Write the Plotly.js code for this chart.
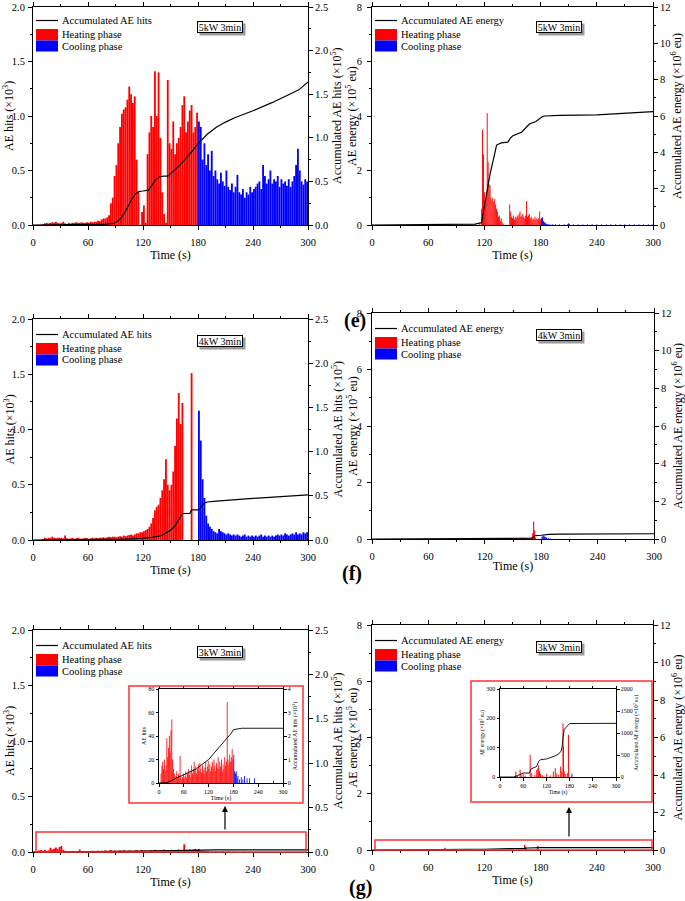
<!DOCTYPE html>
<html>
<head>
<meta charset="utf-8">
<script src="https://cdn.plot.ly/plotly-3.0.1.min.js"></script>
<style>
html, body { margin: 0; padding: 0; background: #fff; }
#plot { width: 685px; height: 901px; }
</style>
</head>
<body>
<div id="plot"></div>
<script>
const W = 685, H = 901;
const FONT = 'Liberation Serif, Times New Roman, serif';
const RED = '#ff0000', BLUE = '#0000ff';

const timeTicks = [0, 60, 120, 180, 240, 300];
const conditions = ['5kW 3min', '4kW 3min', '3kW 3min'];
const panelTags = ['(e)', '(f)', '(g)'];

// ---- 5 kW, AE hits (x10^3), 2 s bins from 0 s (heating) and 180 s (cooling)
const hits5Heat = [0, 0, 0, 0, 0,
  0.01, 0.015, 0.02, 0.015, 0.02, 0.025, 0.02, 0.03, 0.02, 0.015,
  0.02, 0.03, 0.015, 0.01, 0.02, 0.015, 0.02, 0.02, 0.025, 0.02, 0.02, 0.025, 0.02, 0.02, 0.025,
  0.02, 0.03, 0.025, 0.03, 0.03, 0.04, 0.035, 0.05, 0.06, 0.06,
  0.07, 0.09, 0.2, 0.25, 0.45, 0.55, 0.75, 0.9, 1.02, 1.06,
  1.08, 1.15, 1.27, 1.2, 1.12, 1.18, 0.6, 0.3, 0.0, 0.12,
  0.18, 0.02, 0.65, 0.85, 1.0, 0.9, 1.41, 1.0, 1.4, 0.8,
  0.3, 0.1, 0.02, 1.33, 0.75, 0.7, 0.95, 0.65, 0.75, 0.8,
  0.9, 1.1, 1.18, 0.85, 0.95, 1.05, 1.1, 0.85, 0.9, 1.03];
const hits5Cool = [0.95, 0.9, 0.6, 0.75, 0.55, 0.65, 0.5, 0.68, 0.45, 0.5,
  0.42, 0.38, 0.48, 0.4, 0.36, 0.5, 0.35, 0.32, 0.38, 0.3,
  0.35, 0.46, 0.3, 0.28, 0.33, 0.25, 0.3, 0.28, 0.35, 0.3,
  0.33, 0.35, 0.38, 0.4, 0.33, 0.55, 0.45, 0.38, 0.42, 0.5,
  0.38, 0.42, 0.4, 0.45, 0.35, 0.42, 0.38, 0.4, 0.36, 0.42,
  0.35, 0.4, 0.45, 0.55, 0.7, 0.5, 0.4, 0.37, 0.42, 0.4];
const accT5 = [0, 60, 80, 88, 92, 96, 100, 104, 108, 112, 116, 120, 126, 130, 134, 138, 142, 147, 152, 160, 170, 180, 190, 200, 210, 220, 240, 260, 280, 290, 300];
const accHits5 = [0, 0.005, 0.01, 0.02, 0.04, 0.08, 0.14, 0.22, 0.3, 0.36, 0.385, 0.39, 0.4, 0.46, 0.52, 0.55, 0.56, 0.56, 0.61, 0.68, 0.8, 0.93, 1.04, 1.12, 1.18, 1.23, 1.31, 1.4, 1.5, 1.55, 1.64];

// ---- 5 kW, AE energy (x10^5 eu), 1 s bins
const tHeat5E = [95, 100, 105, 110, 115,
  117, 118, 119, 120, 121, 122, 123, 124, 125, 126, 127, 128, 129, 130, 131, 132, 133, 134, 135, 136, 137, 138, 139, 140,
  147, 148, 149, 150, 151, 152, 153, 154, 155, 156, 157, 158, 159, 160, 161, 162, 163, 164, 165, 166, 167, 168, 169, 170,
  171, 172, 173, 174, 175, 176, 177, 178, 179, 180];
const eHeat5E = [0.02, 0.02, 0.03, 0.03, 0.05,
  0.6, 3.5, 2.6, 1.2, 0.8, 1.0, 4.1, 2.3, 1.5, 1.45, 1.0, 0.9, 1.0, 0.85, 0.95, 0.75, 0.6, 0.5, 0.3, 0.35, 0.15, 0.25, 0.1, 0.05,
  0.75, 0.5, 0.3, 0.25, 0.35, 0.2, 0.3, 0.25, 0.35, 0.3, 0.4, 0.5, 0.3, 0.35, 0.4, 0.3, 0.25, 0.35, 0.88, 0.3, 0.35, 0.4, 0.25, 0.3,
  0.2, 0.25, 0.2, 0.3, 0.2, 0.25, 0.2, 0.25, 0.5, 0.2];
const tCool5E = [181, 182, 183, 184, 185, 186, 187, 188, 190, 193, 196, 200, 205, 209, 210, 211, 215, 220, 225, 230, 235, 240, 245, 250, 255, 260, 265, 270, 275, 280, 285, 290, 295, 299];
const eCool5E = [0.25, 0.28, 0.15, 0.1, 0.08, 0.05, 0.04, 0.03, 0.03, 0.03, 0.03, 0.03, 0.03, 0.04, 0.06, 0.04, 0.03, 0.03, 0.03, 0.03, 0.03, 0.03, 0.03, 0.03, 0.03, 0.03, 0.03, 0.03, 0.03, 0.03, 0.03, 0.03, 0.03, 0.03];
const accT5E = [0, 90, 110, 117, 120, 123, 126, 130, 133, 138, 145, 148, 150, 160, 168, 175, 182, 185, 200, 240, 300];
const accE5 = [0, 0.01, 0.05, 0.13, 1.0, 2.1, 2.8, 3.7, 4.4, 4.52, 4.56, 4.8, 4.9, 5.12, 5.56, 5.7, 5.97, 6.0, 6.03, 6.06, 6.24];

// ---- 4 kW, AE hits (x10^3), 2 s bins
const hits4Heat = [0, 0, 0, 0, 0,
  0.01, 0.02, 0.015, 0.02, 0.02, 0.03, 0.02, 0.015, 0.02, 0.02,
  0.02, 0.015, 0.04, 0.015, 0.01, 0.015, 0.02, 0.01, 0.015, 0.02,
  0.015, 0.01, 0.015, 0.02, 0.015, 0.01, 0.015, 0.02, 0.015, 0.02,
  0.015, 0.02, 0.02, 0.025, 0.02, 0.025, 0.03, 0.025, 0.03, 0.03,
  0.025, 0.03, 0.035, 0.03, 0.04, 0.035, 0.04, 0.045, 0.05, 0.04,
  0.05, 0.06, 0.06, 0.07, 0.07, 0.08, 0.09, 0.1, 0.12, 0.15,
  0.2, 0.27, 0.3, 0.32, 0.38, 0.45, 0.55, 0.73, 0.5, 0.45,
  0.5, 0.62, 0.85, 1.1, 1.33, 1.05, 1.24, 0, 0, 0,
  0, 1.51, 0, 0, 0];
const hits4Cool = [1.17, 0.9, 0.55, 0.38, 0.22, 0.15, 0.12, 0.1, 0.08, 0.07,
  0.06, 0.1, 0.08, 0.07, 0.06, 0.05, 0.06, 0.05, 0.04, 0.05,
  0.04, 0.05, 0.04, 0.03, 0.04, 0.05, 0.03, 0.04, 0.03, 0.04,
  0.03, 0.04, 0.03, 0.04, 0.05, 0.03, 0.04, 0.03, 0.04, 0.03,
  0.04, 0.03, 0.04, 0.05, 0.04, 0.05, 0.04, 0.06, 0.05, 0.04,
  0.05, 0.06, 0.05, 0.07, 0.05, 0.06, 0.05, 0.07, 0.06, 0.07];
const accT4 = [0, 60, 100, 120, 130, 140, 145, 150, 155, 160, 163, 165, 171, 173, 175, 181, 183, 186, 190, 200, 240, 300];
const accHits4 = [0, 0.005, 0.01, 0.02, 0.03, 0.05, 0.08, 0.11, 0.16, 0.24, 0.3, 0.3, 0.3, 0.34, 0.34, 0.34, 0.37, 0.41, 0.43, 0.44, 0.47, 0.51];

// ---- 4 kW, AE energy (x10^5 eu), 1 s bins
const tHeat4E = [150, 155, 158, 160, 162, 165, 168, 170, 171, 172, 173, 174];
const eHeat4E = [0.01, 0.02, 0.03, 0.05, 0.04, 0.04, 0.05, 0.06, 0.2, 0.62, 0.3, 0.05];
const tCool4E = [181, 182, 183, 184, 185, 186, 188, 190, 195];
const eCool4E = [0.08, 0.12, 0.1, 0.08, 0.06, 0.04, 0.03, 0.02, 0.01];
const accT4E = [0, 150, 165, 170, 172, 173, 180, 183, 188, 200, 240, 300];
const accE4 = [0, 0.005, 0.02, 0.04, 0.1, 0.18, 0.2, 0.23, 0.25, 0.26, 0.27, 0.28];

// ---- 3 kW, AE hits (raw counts), 2 s bins  (inset; main panel uses x10^3)
const hits3Heat = [0, 0, 8, 15, 18, 12, 20, 10, 15, 38,
  22, 30, 40, 26, 45, 54, 20, 12, 8, 5,
  6, 10, 4, 8, 5, 23, 6, 3, 5, 8,
  4, 6, 10, 5, 8, 12, 7, 10, 5, 15,
  8, 12, 18, 10, 14, 8, 12, 16, 10, 17,
  12, 9, 15, 11, 8, 13, 18, 10, 14, 19,
  12, 16, 10, 14, 18, 12, 20, 15, 10, 17,
  13, 22, 12, 18, 14, 20, 10, 16, 12, 22,
  15, 18, 69, 20, 15, 24, 18, 22, 29, 20];
const hits3Cool = [24, 10, 8, 10, 4, 6, 0, 3, 0, 5,
  0, 3, 0, 6, 0, 0, 4, 0, 0, 4,
  0, 0, 0, 0, 0, 4, 0, 0, 0, 0,
  0, 0, 0, 0, 0, 0, 0, 0, 0, 0,
  0, 0, 0, 0, 0, 0, 0, 0, 2, 0,
  0, 0, 0, 0, 0, 0, 0, 0, 0, 0];
const accT3 = [0, 20, 30, 40, 60, 90, 120, 140, 160, 166, 175, 180, 190, 200, 300];
const accHits3 = [0, 0.02, 0.1, 0.2, 0.35, 0.6, 1.0, 1.4, 1.8, 1.95, 2.12, 2.27, 2.31, 2.33, 2.33]; // x10^3

// ---- 3 kW, AE energy (x10^2 eu)  (inset; main panel uses x10^5 / x10^6)
const tHeat3E = [41, 45, 52, 55, 60, 65, 78, 82, 90, 95, 98, 100, 102, 105, 110, 121, 130, 138, 143, 147, 152, 157, 160, 163, 164, 166, 170, 175, 177];
const eHeat3E = [19, 5, 25, 6, 11, 4, 76, 14, 8, 25, 30, 39, 20, 12, 6, 11, 5, 19, 30, 12, 8, 36, 20, 182, 105, 19, 10, 14, 144];
const tCool3E = [186];
const eCool3E = [11];
const accT3E = [0, 35, 45, 55, 60, 76, 78, 80, 95, 100, 105, 120, 140, 150, 158, 161, 163, 166, 170, 173, 178, 180, 300];
const accE3 = [0, 0, 30, 75, 90, 90, 170, 180, 240, 356, 394, 410, 470, 515, 583, 700, 900, 1080, 1120, 1150, 1200, 1215, 1220];

// ---------------------------------------------------------------
const px = x => x / W;
const py = y => 1 - y / H;
const sfx = n => (n === 1 ? '' : String(n));

const traces = [];
const layout = {
  width: W, height: H,
  margin: { l: 0, r: 0, t: 0, b: 0 },
  showlegend: false,
  barmode: 'overlay',
  paper_bgcolor: 'white', plot_bgcolor: 'white',
  font: { family: FONT, color: 'black' },
  shapes: [], annotations: []
};

function axisBase(fs, minorStep, standoff) {
  const a = {
    showline: true, linecolor: 'black', linewidth: 1,
    ticks: 'outside', ticklen: fs > 8 ? 4 : 2.5, tickwidth: 1, tickcolor: 'black',
    showgrid: false, zeroline: false, automargin: false, ticklabeloverflow: 'allow',
    ticklabelstandoff: standoff || 0,
    tickfont: { family: FONT, size: fs, color: 'black' }
  };
  if (minorStep) a.minor = { ticks: 'outside', ticklen: 2, tickcolor: 'black', dtick: minorStep, showgrid: false };
  return a;
}

function addAxes(n, box, o) {
  const [l, t, r, b] = box;
  layout['xaxis' + sfx(n)] = Object.assign(axisBase(o.fs, o.minor ? 30 : null, o.inset ? 0 : 3), {
    domain: [px(l), px(r)], anchor: 'y' + sfx(2 * n - 1), range: [0, 300],
    tickvals: timeTicks, mirror: 'ticks',
    title: { text: 'Time (s)', font: { size: o.tfs }, standoff: o.xso }
  });
  layout['yaxis' + sfx(2 * n - 1)] = Object.assign(axisBase(o.fs, o.minor ? o.lm : null, o.inset ? 0 : o.lso), {
    domain: [py(b), py(t)], anchor: 'x' + sfx(n), range: o.lr, dtick: o.ld, tickformat: o.lf,
    title: { text: o.inset ? o.lt : '', font: { size: o.tfs }, standoff: o.yso }
  });
  layout['yaxis' + sfx(2 * n)] = Object.assign(axisBase(o.fs, o.minor ? o.rm : null, 0), {
    overlaying: 'y' + sfx(2 * n - 1), side: 'right', anchor: 'x' + sfx(n),
    range: o.rr, dtick: o.rd, tickformat: o.rf,
    title: { text: o.inset ? o.rt : '', font: { size: o.tfs }, standoff: o.yso }
  });
  if (!o.inset) {
    // main-panel y titles placed by hand so neighbouring panels do not collide
    const cy = (t + b) / 2;
    [[o.ltx, o.lt], [o.rtx, o.rt]].forEach(([x, txt]) => {
      layout.annotations.push({ xref: 'paper', yref: 'paper', x: px(x), y: py(cy), xanchor: 'center', yanchor: 'middle',
        text: txt, textangle: -90, showarrow: false, font: { size: o.tfs } });
    });
  }
}

function barTrace(n, color, y, pos) {
  return Object.assign({ type: 'bar', xaxis: 'x' + sfx(n), yaxis: 'y' + sfx(2 * n - 1), y: y,
    marker: { color: color, line: { width: 0 } }, opacity: 1, hoverinfo: 'skip' }, pos);
}
function lineTrace(n, x, y, w) {
  return { type: 'scatter', mode: 'lines', xaxis: 'x' + sfx(n), yaxis: 'y' + sfx(2 * n),
    x: x, y: y, line: { color: 'black', width: w }, hoverinfo: 'skip' };
}
function rectShape(l, t, r, b, fill, line) {
  return { type: 'rect', xref: 'paper', yref: 'paper', x0: px(l), x1: px(r), y0: py(b), y1: py(t),
    fillcolor: fill, line: line || { width: 0 } };
}
function addLegend(l, t, label) {
  layout.shapes.push({ type: 'line', xref: 'paper', yref: 'paper', x0: px(l + 3), x1: px(l + 25),
    y0: py(t + 15.5), y1: py(t + 15.5), line: { color: 'black', width: 1.2 } });
  layout.shapes.push(rectShape(l + 3, t + 24, l + 25, t + 35.5, RED));
  layout.shapes.push(rectShape(l + 3, t + 35.5, l + 25, t + 46.5, BLUE));
  [label, 'Heating phase', 'Cooling phase'].forEach((s, i) => {
    layout.annotations.push({ xref: 'paper', yref: 'paper', x: px(l + 27), y: py(t + [15.5, 29.5, 41][i]),
      xanchor: 'left', yanchor: 'middle', text: s, showarrow: false, font: { size: 10.5 } });
  });
}
function addCondition(l, t, text) {
  const cx = l + 187, cy = t + 22;
  layout.shapes.push(rectShape(cx - 20.5, cy - 3.5, cx + 25.5, cy + 8.5, '#9a9a9a'));
  layout.annotations.push({ xref: 'paper', yref: 'paper', x: px(cx), y: py(cy), xanchor: 'center', yanchor: 'middle',
    text: text, showarrow: false, bgcolor: 'white', bordercolor: 'black', borderwidth: 1, borderpad: 0,
    width: 44, height: 10, font: { size: 10 } });
}

const hitsAxes = { fs: 10.5, tfs: 12, xso: 1, minor: true, lso: 1, ltx: 9, rtx: 337,
  lr: [0, 2], ld: 0.5, lf: '.1f', lm: 0.25, lt: 'AE hits (×10<sup>3</sup>)',
  rr: [0, 2.5], rd: 0.5, rf: '.1f', rm: 0.25, rt: 'Accumulated AE hits (×10<sup>5</sup>)' };
const energyAxes = { fs: 10.5, tfs: 12, xso: 1, minor: true, lso: 3, ltx: 352, rtx: 677,
  lr: [0, 8], ld: 2, lf: 'd', lm: 1, lt: 'AE energy (×10<sup>5</sup> eu)',
  rr: [0, 12], rd: 2, rf: 'd', rm: 1, rt: 'Accumulated AE energy (×10<sup>6</sup> eu)' };

const boxes = {
  1: [33, 7, 308, 225], 2: [372, 7, 653, 225],
  3: [33, 319, 308, 540], 4: [372, 313, 654, 539],
  5: [33, 630, 308, 852], 6: [372, 625, 653, 850],
  7: [159, 689, 283, 783], 8: [500, 689, 616, 777]
};

[1, 3, 5].forEach(n => addAxes(n, boxes[n], hitsAxes));
[2, 4, 6].forEach(n => addAxes(n, boxes[n], energyAxes));
addAxes(7, boxes[7], { inset: true, fs: 6, tfs: 6, xso: 1, yso: 1, minor: false,
  lr: [0, 80], ld: 20, lf: 'd', lt: 'AE hits',
  rr: [0, 4], rd: 1, rf: 'd', rt: 'Accumulated AE hits (×10<sup>3</sup>)' });
addAxes(8, boxes[8], { inset: true, fs: 6, tfs: 5.5, xso: 1, yso: 1, minor: false,
  lr: [0, 300], ld: 100, lf: 'd', lt: 'AE energy (×10<sup>2</sup> eu)',
  rr: [0, 2000], rd: 500, rf: 'd', rt: 'Accumulated AE energy (×10<sup>2</sup> eu)' });

const heat2 = { x0: 1, dx: 2, width: 2 };
const cool2 = { x0: 181, dx: 2, width: 2 };

// 5 kW
traces.push(barTrace(1, RED, hits5Heat, heat2), barTrace(1, BLUE, hits5Cool, cool2), lineTrace(1, accT5, accHits5, 1.2));
traces.push(barTrace(2, RED, eHeat5E, { x: tHeat5E, width: 1 }), barTrace(2, BLUE, eCool5E, { x: tCool5E, width: 1 }), lineTrace(2, accT5E, accE5, 1.2));
// 4 kW
traces.push(barTrace(3, RED, hits4Heat, heat2), barTrace(3, BLUE, hits4Cool, cool2), lineTrace(3, accT4, accHits4, 1.2));
traces.push(barTrace(4, RED, eHeat4E, { x: tHeat4E, width: 1.2 }), barTrace(4, BLUE, eCool4E, { x: tCool4E, width: 1.2 }), lineTrace(4, accT4E, accE4, 1.2));
// 3 kW main panels (unit conversion from inset data)
traces.push(barTrace(5, RED, hits3Heat.map(v => v / 1000), heat2), barTrace(5, BLUE, hits3Cool.map(v => v / 1000), cool2),
  lineTrace(5, accT3, accHits3.map(v => v / 100), 1.2));
traces.push(barTrace(6, RED, eHeat3E.map(v => v / 1000), { x: tHeat3E, width: 1.5 }), barTrace(6, BLUE, eCool3E.map(v => v / 1000), { x: tCool3E, width: 1.5 }),
  lineTrace(6, accT3E, accE3.map(v => v / 10000), 1.2));
// insets
traces.push(barTrace(7, RED, hits3Heat, heat2), barTrace(7, BLUE, hits3Cool, cool2), lineTrace(7, accT3, accHits3, 0.9));
traces.push(barTrace(8, RED, eHeat3E, { x: tHeat3E, width: 2.5 }), barTrace(8, BLUE, eCool3E, { x: tCool3E, width: 2.5 }), lineTrace(8, accT3E, accE3, 0.9));

// legends and condition boxes
[[1, 'Accumulated AE hits'], [2, 'Accumulated AE energy'], [3, 'Accumulated AE hits'],
 [4, 'Accumulated AE energy'], [5, 'Accumulated AE hits'], [6, 'Accumulated AE energy']].forEach(([n, lab]) => {
  const top = n <= 2 ? 5 : boxes[n][1];
  addLegend(boxes[n][0], top, lab);
  addCondition(boxes[n][0], top, conditions[Math.floor((n - 1) / 2)]);
});

// inset frames, zoom windows and arrows
const redLine = { color: 'rgb(255,50,50)', width: 1.5 };
layout.shapes.push(rectShape(129, 686, 303, 803, 'rgba(0,0,0,0)', redLine));
layout.shapes.push(rectShape(36, 832, 306, 852, 'rgba(0,0,0,0)', redLine));
layout.shapes.push(rectShape(471, 681, 652, 802, 'rgba(0,0,0,0)', redLine));
layout.shapes.push(rectShape(375, 840, 652, 850, 'rgba(0,0,0,0)', redLine));
[[225, 806, 25], [569, 807, 31]].forEach(([x, y, len]) => {
  layout.annotations.push({ xref: 'paper', yref: 'paper', x: px(x), y: py(y), ax: 0, ay: len, text: '',
    showarrow: true, arrowhead: 2, arrowsize: 1, arrowwidth: 1.2, arrowcolor: 'black' });
});

// panel tags
[[355, 320], [352, 573], [360, 887]].forEach(([x, y], i) => {
  layout.annotations.push({ xref: 'paper', yref: 'paper', x: px(x), y: py(y), xanchor: 'center', yanchor: 'middle',
    text: '<b>' + panelTags[i] + '</b>', showarrow: false, font: { size: 20 } });
});

Plotly.newPlot('plot', traces, layout, { staticPlot: true, displayModeBar: false });
</script>
</body>
</html>
